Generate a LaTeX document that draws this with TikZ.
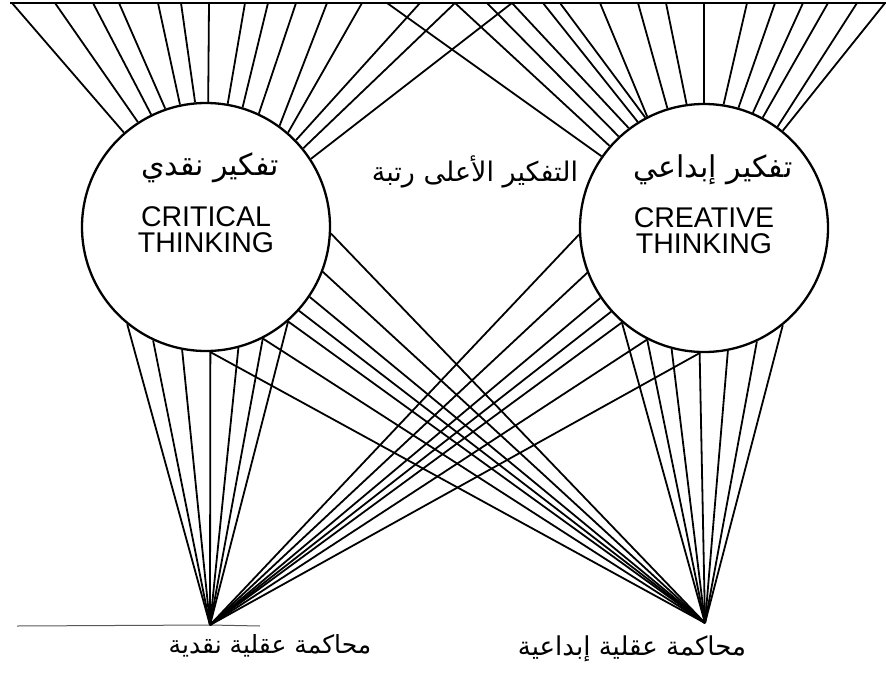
\documentclass[tikz,border=0pt]{standalone}
\usepackage{fontspec}
\setmainfont{Liberation Sans}
\newfontfamily\arabicfont[Script=Arabic]{DejaVu Sans}
\TeXXeTstate=1
\usetikzlibrary{positioning}

\tikzset{
  mind/.style={circle, draw, line width=2.3pt, minimum size=248pt, inner sep=0pt},
  ray/.style={line width=1.8pt},
  engl/.style={align=center, font=\fontsize{28.5}{26}\selectfont},
  arab/.style={font=\arabicfont\fontsize{30}{32}\selectfont, inner sep=0pt},
}

\begin{document}
\begin{tikzpicture}[x=1pt, y=-1pt]
  \useasboundingbox (0,0) rectangle (886,672);

  % the two circles
  \node[mind] (crit) at (206,227) {};
  \node[mind] (crea) at (704,228) {};
  \node[engl] (critEn) at (206,230) {CRITICAL\\THINKING};
  \node[engl] (creaEn) at (704,231) {CREATIVE\\THINKING};
  \node[arab] (critAr) at (210,168) {\beginR تفكير نقدي\endR};
  \node[arab] (creaAr) at (713,170) {\beginR تفكير إبداعي\endR};
  \node[arab, font=\arabicfont\fontsize{27}{30}\selectfont] (top) at (475,172)
    {\beginR التفكير الأعلى رتبة\endR};

  % bar along the top
  \coordinate (barL) at (10,3);
  \coordinate (barR) at (886,3);
  \draw[line width=2.6pt] (barL) -- (barR);

  % fans from the top bar
  \foreach \a/\x in {131/12, 123/55, 116/93, 109/119, 102/158, 95/181, 89/209,
                     80/245, 73/268, 65/296, 54/327, 49/362, 44/420, 39/455, 33/512}
    \draw[ray] (crit.\a) -- (\x,0 |- barL);
  \foreach \a/\x in {145/387, 139/455, 133/487, 127/512, 122/543, 118/560,
                     117/600, 107/638, 98/666, 90/704, 81/747, 74/775, 67/803,
                     62/828, 54/857, 51/885}
    \draw[ray] (crea.\a) -- (\x,0 |- barL);

  % judgement points at the bottom
  \coordinate (critJ) at (210,625);
  \coordinate (creaJ) at (705,623);
  \draw[gray!70!black, line width=1pt] (17,626) -- (critJ) -- (260,626);

  \foreach \a in {231,245,259,272,285,297,311}
    \draw[ray] (crit.\a) -- (critJ);
  \foreach \a in {272,297,311,318,326,339,357}
    \draw[ray] (crit.\a) -- (creaJ);
  \foreach \a in {229,243,255,268,281,295,309}
    \draw[ray] (crea.\a) -- (creaJ);
  \foreach \a in {268,243,229,222,214,201,183}
    \draw[ray] (crea.\a) -- (critJ);

  \node[arab, font=\arabicfont\fontsize{25}{28}\selectfont] (critLbl) at (270,646)
    {\beginR محاكمة عقلية نقدية\endR};
  \node[arab, font=\arabicfont\fontsize{26}{28}\selectfont] (creaLbl) at (632,649)
    {\beginR محاكمة عقلية إبداعية\endR};
\end{tikzpicture}
\end{document}
